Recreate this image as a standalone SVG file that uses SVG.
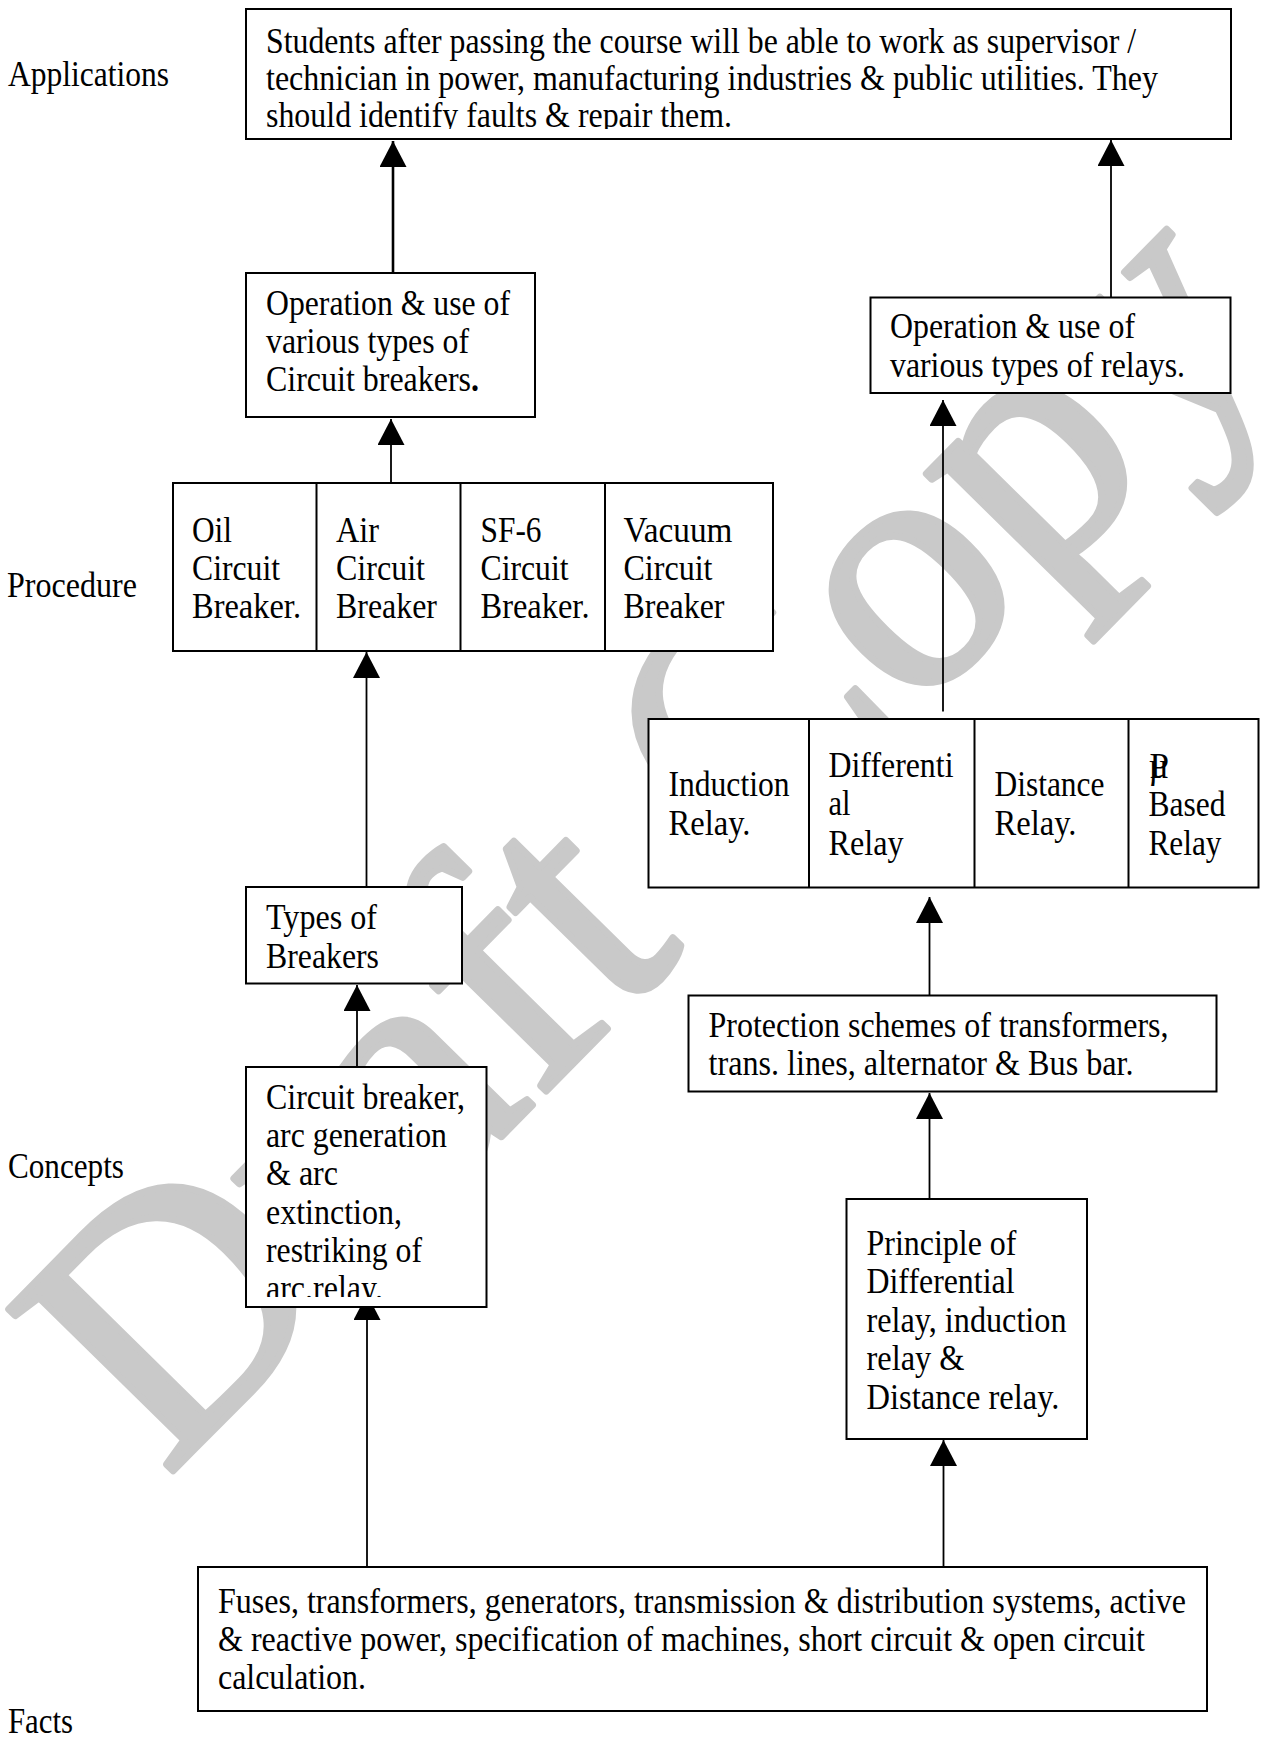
<svg xmlns="http://www.w3.org/2000/svg" width="1264" height="1739" viewBox="0 0 1264 1739">
<defs>
<style>
.t{font-family:"Liberation Serif","Times New Roman",serif;font-size:35px;fill:#000}
.b{fill:#fff;stroke:#000;stroke-width:2}
.d{stroke:#000;stroke-width:2;fill:none}
.c{stroke:#000;stroke-width:1.8;fill:none;marker-end:url(#ah)}
.wm{font-family:"Liberation Serif","Times New Roman",serif;font-size:352px;fill:#c9c9c9;stroke:#c9c9c9;stroke-width:7;stroke-linejoin:round}
</style>
<marker id="ah" viewBox="0 0 26 27" refX="26" refY="13.5" markerWidth="26" markerHeight="27" markerUnits="userSpaceOnUse" orient="auto">
<path d="M0,0 L26,13.5 L0,27 Z" fill="#000"/>
</marker>
<clipPath id="clipTop"><rect x="246" y="9" width="985" height="120"/></clipPath>
<clipPath id="clipConc"><rect x="246" y="1067" width="241" height="230"/></clipPath>
</defs>
<rect x="0" y="0" width="1264" height="1739" fill="#fff"/>
<g id="watermark">
<text class="wm" transform="translate(166,1478) rotate(-45.5)">Draft Copy</text>
</g>
<g id="connectors">
<line class="c" x1="393" y1="273" x2="393" y2="141" style="stroke-width:2.6"/>
<line class="c" x1="1111" y1="297" x2="1111" y2="140"/>
<line class="c" x1="391" y1="483" x2="391" y2="419"/>
<line class="c" x1="366.5" y1="887" x2="366.5" y2="652"/>
<line class="c" x1="357" y1="1067" x2="357" y2="985"/>
<line class="c" x1="367" y1="1567" x2="367" y2="1294"/>
<line class="c" x1="943" y1="711.5" x2="943" y2="400"/>
<line class="c" x1="929.5" y1="995" x2="929.5" y2="897"/>
<line class="c" x1="929.5" y1="1199" x2="929.5" y2="1093"/>
<line class="c" x1="943.5" y1="1567" x2="943.5" y2="1440"/>
</g>
<g id="labels">
<text class="t" x="8" y="86" textLength="161" lengthAdjust="spacingAndGlyphs">Applications</text>
<text class="t" x="7" y="597" textLength="130" lengthAdjust="spacingAndGlyphs">Procedure</text>
<text class="t" x="8" y="1178" textLength="116" lengthAdjust="spacingAndGlyphs">Concepts</text>
<text class="t" x="8" y="1733" textLength="65" lengthAdjust="spacingAndGlyphs">Facts</text>
</g>
<g id="node-applications">
<rect class="b" x="246" y="9" width="985" height="130"/>
<g clip-path="url(#clipTop)">
<text class="t" x="266" y="53" textLength="870" lengthAdjust="spacingAndGlyphs">Students after passing the course will be able to work as supervisor /</text>
<text class="t" x="266" y="90" textLength="892" lengthAdjust="spacingAndGlyphs">technician in power, manufacturing industries &amp; public utilities. They</text>
<text class="t" x="266" y="127" textLength="466" lengthAdjust="spacingAndGlyphs">should identify faults &amp; repair them.</text>
</g>
</g>
<g id="node-op-cb">
<rect class="b" x="246" y="273" width="289" height="144"/>
<text class="t" x="266" y="315" textLength="244" lengthAdjust="spacingAndGlyphs">Operation &amp; use of</text>
<text class="t" x="266" y="353" textLength="203" lengthAdjust="spacingAndGlyphs">various types of</text>
<text class="t" x="266" y="391" textLength="213" lengthAdjust="spacingAndGlyphs">Circuit breakers<tspan font-weight="bold">.</tspan></text>
</g>
<g id="node-op-relays">
<rect class="b" x="870.5" y="297.5" width="360" height="95.5"/>
<text class="t" x="890" y="338" textLength="245" lengthAdjust="spacingAndGlyphs">Operation &amp; use of</text>
<text class="t" x="890" y="377" textLength="295" lengthAdjust="spacingAndGlyphs">various types of relays.</text>
</g>
<g id="node-breakers">
<rect class="b" x="173" y="483" width="600" height="168"/>
<line class="d" x1="316.5" y1="483" x2="316.5" y2="651"/>
<line class="d" x1="460.5" y1="483" x2="460.5" y2="651"/>
<line class="d" x1="605" y1="483" x2="605" y2="651"/>
<text class="t" x="192" y="542" textLength="40" lengthAdjust="spacingAndGlyphs">Oil</text>
<text class="t" x="192" y="580" textLength="88" lengthAdjust="spacingAndGlyphs">Circuit</text>
<text class="t" x="192" y="618" textLength="109" lengthAdjust="spacingAndGlyphs">Breaker.</text>
<text class="t" x="336" y="542" textLength="43" lengthAdjust="spacingAndGlyphs">Air</text>
<text class="t" x="336" y="580" textLength="89" lengthAdjust="spacingAndGlyphs">Circuit</text>
<text class="t" x="336" y="618" textLength="101" lengthAdjust="spacingAndGlyphs">Breaker</text>
<text class="t" x="480.5" y="542" textLength="61" lengthAdjust="spacingAndGlyphs">SF-6</text>
<text class="t" x="480.5" y="580" textLength="88" lengthAdjust="spacingAndGlyphs">Circuit</text>
<text class="t" x="480.5" y="618" textLength="109" lengthAdjust="spacingAndGlyphs">Breaker.</text>
<text class="t" x="623.5" y="542" textLength="109" lengthAdjust="spacingAndGlyphs">Vacuum</text>
<text class="t" x="623.5" y="580" textLength="89" lengthAdjust="spacingAndGlyphs">Circuit</text>
<text class="t" x="623.5" y="618" textLength="101" lengthAdjust="spacingAndGlyphs">Breaker</text>
</g>
<g id="node-relays">
<rect class="b" x="648.5" y="719" width="610" height="168.5"/>
<line class="d" x1="809" y1="719" x2="809" y2="887.5"/>
<line class="d" x1="974.5" y1="719" x2="974.5" y2="887.5"/>
<line class="d" x1="1128.5" y1="719" x2="1128.5" y2="887.5"/>
<text class="t" x="668.5" y="796" textLength="121" lengthAdjust="spacingAndGlyphs">Induction</text>
<text class="t" x="668.5" y="835" textLength="82" lengthAdjust="spacingAndGlyphs">Relay.</text>
<text class="t" x="828.5" y="777" textLength="125" lengthAdjust="spacingAndGlyphs">Differenti</text>
<text class="t" x="828.5" y="815" textLength="22" lengthAdjust="spacingAndGlyphs">al</text>
<text class="t" x="828.5" y="855" textLength="75" lengthAdjust="spacingAndGlyphs">Relay</text>
<text class="t" x="994.5" y="796" textLength="110" lengthAdjust="spacingAndGlyphs">Distance</text>
<text class="t" x="994.5" y="835" textLength="82" lengthAdjust="spacingAndGlyphs">Relay.</text>
<text class="t" x="1148.5" y="778">µ</text>
<text class="t" x="1149.5" y="778">P</text>
<text class="t" x="1148.5" y="816" textLength="77" lengthAdjust="spacingAndGlyphs">Based</text>
<text class="t" x="1148.5" y="855" textLength="73" lengthAdjust="spacingAndGlyphs">Relay</text>
</g>
<g id="node-types">
<rect class="b" x="246" y="887" width="216" height="96.5"/>
<text class="t" x="266" y="929" textLength="111" lengthAdjust="spacingAndGlyphs">Types of</text>
<text class="t" x="266" y="968" textLength="113" lengthAdjust="spacingAndGlyphs">Breakers</text>
</g>
<g id="node-concepts-cb">
<rect class="b" x="246" y="1067" width="240.5" height="240"/>
<g clip-path="url(#clipConc)">
<text class="t" x="266" y="1109" textLength="199" lengthAdjust="spacingAndGlyphs">Circuit breaker,</text>
<text class="t" x="266" y="1147" textLength="181" lengthAdjust="spacingAndGlyphs">arc generation</text>
<text class="t" x="266" y="1185" textLength="72" lengthAdjust="spacingAndGlyphs">&amp; arc</text>
<text class="t" x="266" y="1224" textLength="136" lengthAdjust="spacingAndGlyphs">extinction,</text>
<text class="t" x="266" y="1262" textLength="156" lengthAdjust="spacingAndGlyphs">restriking of</text>
<text class="t" x="266" y="1300" textLength="117" lengthAdjust="spacingAndGlyphs">arc.relay.</text>
</g>
</g>
<g id="node-protection">
<rect class="b" x="688.5" y="995.5" width="528" height="96"/>
<text class="t" x="708.5" y="1037" textLength="460" lengthAdjust="spacingAndGlyphs">Protection schemes of transformers,</text>
<text class="t" x="708.5" y="1075" textLength="425" lengthAdjust="spacingAndGlyphs">trans. lines, alternator &amp; Bus bar.</text>
</g>
<g id="node-principle">
<rect class="b" x="846.5" y="1199" width="240.5" height="240"/>
<text class="t" x="866.5" y="1255" textLength="150" lengthAdjust="spacingAndGlyphs">Principle of</text>
<text class="t" x="866.5" y="1293" textLength="148" lengthAdjust="spacingAndGlyphs">Differential</text>
<text class="t" x="866.5" y="1332" textLength="200" lengthAdjust="spacingAndGlyphs">relay, induction</text>
<text class="t" x="866.5" y="1370" textLength="98" lengthAdjust="spacingAndGlyphs">relay &amp;</text>
<text class="t" x="866.5" y="1409" textLength="193" lengthAdjust="spacingAndGlyphs">Distance relay.</text>
</g>
<g id="node-facts">
<rect class="b" x="198" y="1567" width="1009" height="144"/>
<text class="t" x="218" y="1613" textLength="968" lengthAdjust="spacingAndGlyphs">Fuses, transformers, generators, transmission &amp; distribution systems, active</text>
<text class="t" x="218" y="1651" textLength="927" lengthAdjust="spacingAndGlyphs">&amp; reactive power, specification of machines, short circuit &amp; open circuit</text>
<text class="t" x="218" y="1689" textLength="148" lengthAdjust="spacingAndGlyphs">calculation.</text>
</g>
</svg>
